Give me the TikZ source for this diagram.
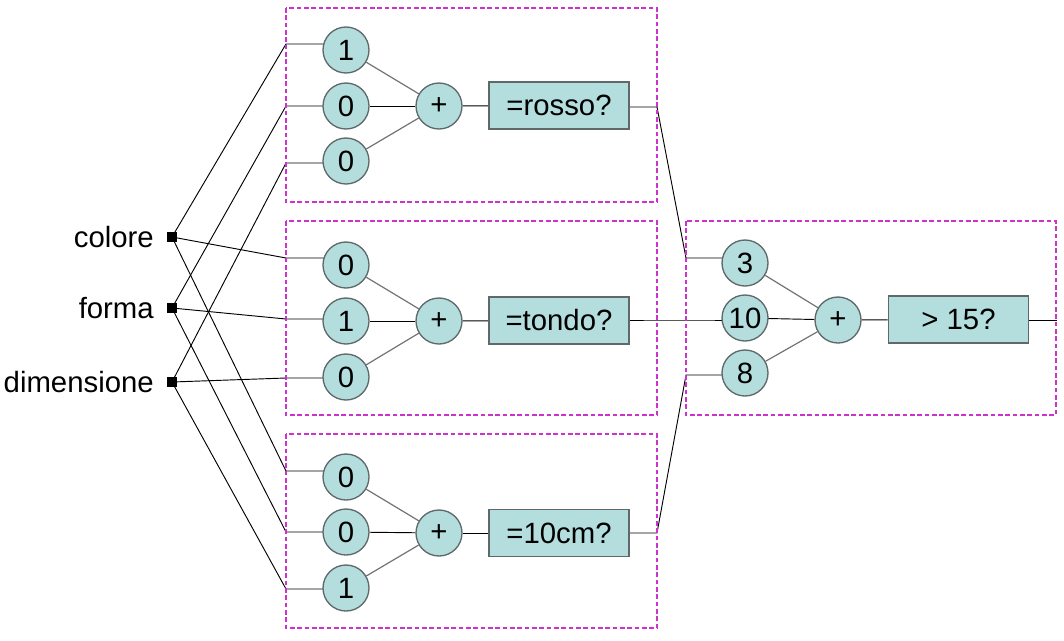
\documentclass[tikz,border=0pt]{standalone}
\usepackage{fontspec}
\setmainfont{Liberation Sans}
\pgfdeclarelayer{background}
\pgfsetlayers{background,main}
\definecolor{cellfill}{RGB}{180,221,222}
\definecolor{celldraw}{RGB}{95,105,105}
\definecolor{boxdash}{RGB}{204,51,204}
\begin{document}
\begin{tikzpicture}[x=0.75pt,y=-0.75pt,
  weight/.style={circle,draw=celldraw,fill=cellfill,line width=1pt,minimum size=34.5pt,inner sep=0pt,font=\fontsize{22}{24}\selectfont},
  test/.style={rectangle,draw=celldraw,fill=cellfill,line width=1.3pt,minimum width=105pt,minimum height=35.25pt,inner sep=0pt,font=\fontsize{22}{24}\selectfont},
  inport/.style={rectangle,fill=black,minimum size=7pt,inner sep=0pt},
  inlabel/.style={anchor=east,inner sep=0pt,font=\fontsize{22}{24}\selectfont},
  group/.style={draw=boxdash,dashed,line width=0.8pt,dash pattern=on 3.5pt off 2pt},
  wire/.style={draw=black,line width=0.7pt},
  inner/.style={draw=black!55,line width=0.9pt}]
\useasboundingbox (0,0) rectangle (1064,640);

% inputs
\node[inport] (ic) at (172,237) {};
\node[inport] (if) at (172,308) {};
\node[inport] (id) at (172,382) {};
\node[inlabel] (lc) at (154,237) {colore};
\node[inlabel] (lf) at (154,308) {forma};
\node[inlabel] (ld) at (154,382) {dimensione};

% group frames
\draw[group] (286,8) rectangle (657,202);
\draw[group] (286,221) rectangle (657,415);
\draw[group] (286,434) rectangle (657,628);
\draw[group] (686,221) rectangle (1056,415);

% group 1
\node[weight] (a1) at (346,50) {1};
\node[weight] (a2) at (346,106) {0};
\node[weight] (a3) at (346,161) {0};
\node[weight] (ap) at (439,106) {+};
\node[test] (at) at (559,105.5) {=rosso?};
% group 2
\node[weight] (b1) at (346,265) {0};
\node[weight] (b2) at (346,321) {1};
\node[weight] (b3) at (346,377) {0};
\node[weight] (bp) at (439,321) {+};
\node[test] (bt) at (559,320.5) {=tondo?};
% group 3
\node[weight] (c1) at (346,477) {0};
\node[weight] (c2) at (346,532) {0};
\node[weight] (c3) at (346,588) {1};
\node[weight] (cp) at (439,533) {+};
\node[test] (ct) at (559,533) {=10cm?};
% group 4
\node[weight] (d1) at (745,263) {3};
\node[weight] (d2) at (745,318) {10};
\node[weight] (d3) at (745,373) {8};
\node[weight] (dp) at (838,320) {+};
\node[test] (dt) at (958.5,319.5) {> 15?};

% entry points on frames
\coordinate (ea1) at (286,44);
\coordinate (ea2) at (286,106);
\coordinate (ea3) at (286,163);
\coordinate (eb1) at (286,258);
\coordinate (eb2) at (286,319);
\coordinate (eb3) at (286,378);
\coordinate (ec1) at (286,471);
\coordinate (ec2) at (286,532);
\coordinate (ec3) at (286,589);
\coordinate (xa) at (657,107);
\coordinate (xb) at (657,320);
\coordinate (xc) at (657,533);
\coordinate (ed1) at (686,258);
\coordinate (ed2) at (686,320);
\coordinate (ed3) at (686,375);
\coordinate (out) at (1057,320);

\begin{pgfonlayer}{background}
\draw[wire] (ic.center) -- (ea1) -- (ea1 -| a1.center);
\draw[wire] (ic.center) -- (eb1) -- (eb1 -| b1.center);
\draw[wire] (ic.center) -- (ec1) -- (ec1 -| c1.center);
\draw[wire] (if.center) -- (ea2) -- (ea2 -| a2.center);
\draw[wire] (if.center) -- (eb2) -- (eb2 -| b2.center);
\draw[wire] (if.center) -- (ec2) -- (ec2 -| c2.center);
\draw[wire] (id.center) -- (ea3) -- (ea3 -| a3.center);
\draw[wire] (id.center) -- (eb3) -- (eb3 -| b3.center);
\draw[wire] (id.center) -- (ec3) -- (ec3 -| c3.center);

\draw[inner] (a1) -- (ap); \draw[inner] (a3) -- (ap);
\draw[inner] (b1) -- (bp); \draw[inner] (b3) -- (bp);
\draw[inner] (c1) -- (cp); \draw[inner] (c3) -- (cp);
\draw[inner] (d1) -- (dp); \draw[inner] (d3) -- (dp);
\draw[wire] (a2) -- (ap); \draw[wire] (b2) -- (bp);
\draw[wire] (c2) -- (cp); \draw[wire] (d2.center) -- (dp);
\draw[wire] (ap) -- (at); \draw[wire] (bp) -- (bt);
\draw[wire] (cp) -- (ct); \draw[wire] (dp) -- (dt);

\draw[wire] (at.east |- xa) -- (xa) -- (ed1) -- (ed1 -| d1.center);
\draw[wire] (bt.east |- xb) -- (xb) -- (ed2) -- (ed2 -| d2.center);
\draw[wire] (ct.east |- xc) -- (xc) -- (ed3) -- (ed3 -| d3.center);
\draw[wire] (dt.east |- out) -- (out);
\end{pgfonlayer}
\end{tikzpicture}
\end{document}
